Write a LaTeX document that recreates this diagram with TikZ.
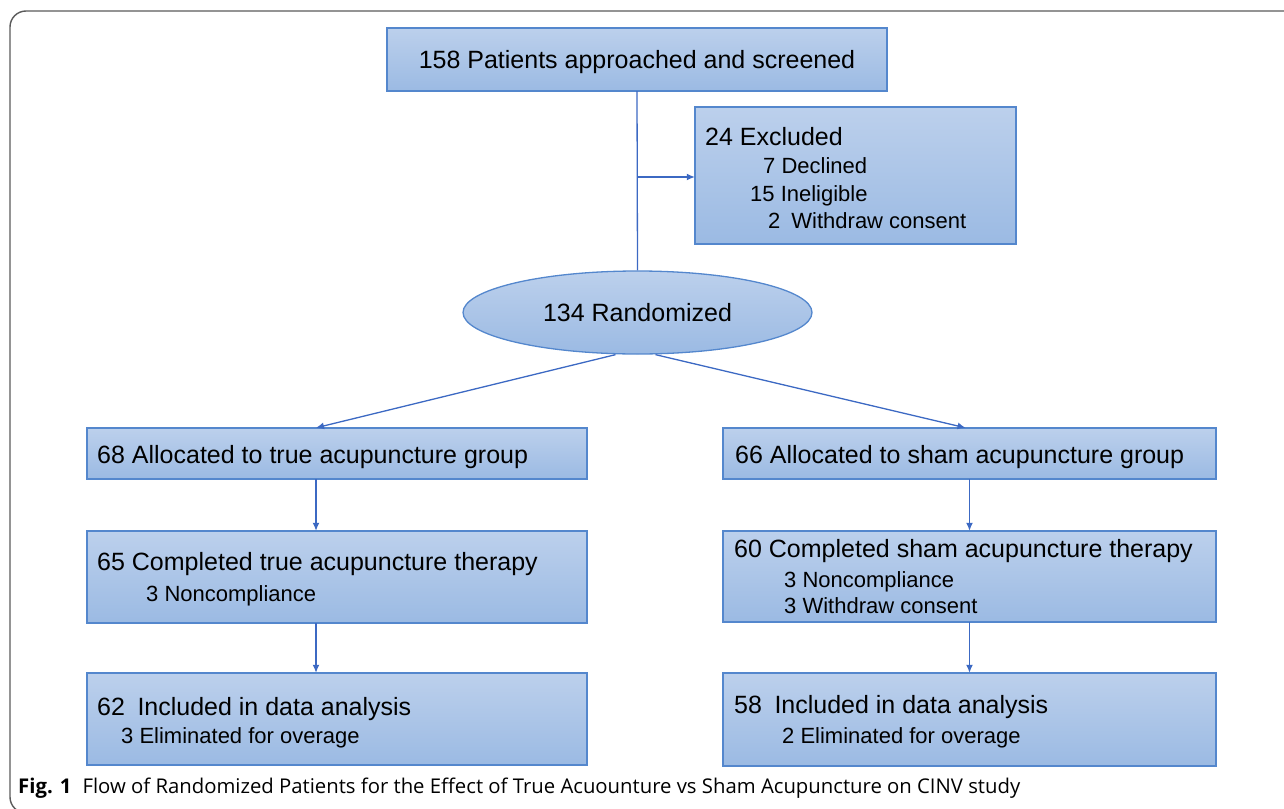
\documentclass[tikz,border=0pt]{standalone}
\usepackage{fontspec}
\setmainfont{Liberation Sans}
\newfontfamily\capfont{Open Sans}
\usetikzlibrary{arrows.meta,shapes.geometric}
\definecolor{boxtop}{RGB}{188,208,236}
\definecolor{boxbot}{RGB}{155,186,227}
\definecolor{boxline}{RGB}{84,135,205}
\definecolor{arrowc}{RGB}{60,105,195}
\definecolor{framec}{RGB}{90,90,90}
\begin{document}
\begin{tikzpicture}[x=1pt,y=-1pt,
  flowbox/.style={draw=boxline,line width=1.3pt,top color=boxtop,bottom color=boxbot},
  conn/.style={draw=arrowc,line width=1.3pt},
  arr/.style={conn,-{Latex[length=8pt,width=7pt]}},
  big/.style={anchor=base west,inner sep=0pt,font=\fontsize{25}{30}\selectfont},
  small/.style={anchor=base west,inner sep=0pt,font=\fontsize{22}{26}\selectfont}]
\useasboundingbox (0,0) rectangle (1284,808);
\clip (0,0) rectangle (1284,808);
% outer frame
\draw[framec,line width=1.4pt,rounded corners=16pt] (10,11) rectangle (1320,813);
% boxes
\path[flowbox] (387,28) rectangle (887,91);
\node (top) [inner sep=0pt,minimum width=500pt,minimum height=63pt] at (637,59.5) {};
\node[anchor=base,inner sep=0pt,font=\fontsize{25}{30}\selectfont] (toptxt) at (637,69) {158 Patients approached and screened};

\path[flowbox] (695,107) rectangle (1016,244);
\node (excl) [inner sep=0pt,minimum width=321pt,minimum height=137pt] at (855.5,175.5) {};
\node[big] (e0) at (705,145) {24 Excluded};
\node[small] (e1) at (763,173) {7 Declined};
\node[small] (e2) at (750,201) {15 Ineligible};
\node[small] (e3) at (768,228) {2\hspace{0.5em}Withdraw consent};

\node[ellipse,flowbox,minimum width=349pt,minimum height=83pt,inner sep=0pt] (rand) at (637.5,312.5) {};
\node[anchor=base,inner sep=0pt,font=\fontsize{25}{30}\selectfont] (randtxt) at (637.5,321) {134 Randomized};

\path[flowbox] (87,428) rectangle (587,479);
\node (L1) [inner sep=0pt,minimum width=500pt,minimum height=51pt] at (337,453.5) {};
\node[big] (l1t) at (97,463) {68 Allocated to true acupuncture group};

\path[flowbox] (87,531) rectangle (587,623);
\node (L2) [inner sep=0pt,minimum width=500pt,minimum height=92pt] at (337,577) {};
\node[big] (l2t) at (97,570) {65 Completed true acupuncture therapy};
\node[small] (l2s) at (146,601) {3 Noncompliance};

\path[flowbox] (87,673) rectangle (587,765);
\node (L3) [inner sep=0pt,minimum width=500pt,minimum height=92pt] at (337,719) {};
\node[big] (l3t) at (97,715) {62\hspace{0.5em}Included in data analysis};
\node[small] (l3s) at (121,743) {3 Eliminated for overage};

\path[flowbox] (723,428) rectangle (1216,479);
\node (R1) [inner sep=0pt,minimum width=493pt,minimum height=51pt] at (969.5,453.5) {};
\node[big] (r1t) at (735,463) {66 Allocated to sham acupuncture group};

\path[flowbox] (723,531) rectangle (1216,622);
\node (R2) [inner sep=0pt,minimum width=493pt,minimum height=91pt] at (969.5,576.5) {};
\node[big] (r2t) at (734,557) {60 Completed sham acupuncture therapy};
\node[small] (r2s) at (784,587) {3 Noncompliance};
\node[small] (r2u) at (784,613) {3 Withdraw consent};

\path[flowbox] (723,673) rectangle (1216,766);
\node (R3) [inner sep=0pt,minimum width=493pt,minimum height=93pt] at (969.5,719.5) {};
\node[big] (r3t) at (734,713) {58\hspace{0.5em}Included in data analysis};
\node[small] (r3s) at (782,743) {2 Eliminated for overage};

% connectors
\coordinate (branch) at (637,177);
\draw[conn] (top.south) -- (rand.north);
\draw[arr] (branch) -- (excl.west |- branch);
\draw[arr] ([xshift=-22pt]rand.south) -- ([xshift=-21pt]L1.north);
\draw[arr] ([xshift=18pt]rand.south) -- ([xshift=-4pt]R1.north);
\draw[arr] (L1.south -| 316,0) -- (L2.north -| 316,0);
\draw[arr] (L2.south -| 316,0) -- (L3.north -| 316,0);
\draw[arr] (R1.south) -- (R2.north);
\draw[arr] (R2.south) -- (R3.north);

% caption
\node[anchor=base west,inner sep=0pt,font=\capfont\fontsize{20.3}{24}\selectfont] (cap) at (18,793)
  {\textbf{Fig. 1}\hspace{0.55em}Flow of Randomized Patients for the Effect of True Acuounture vs Sham Acupuncture on CINV study};
\end{tikzpicture}
\end{document}
